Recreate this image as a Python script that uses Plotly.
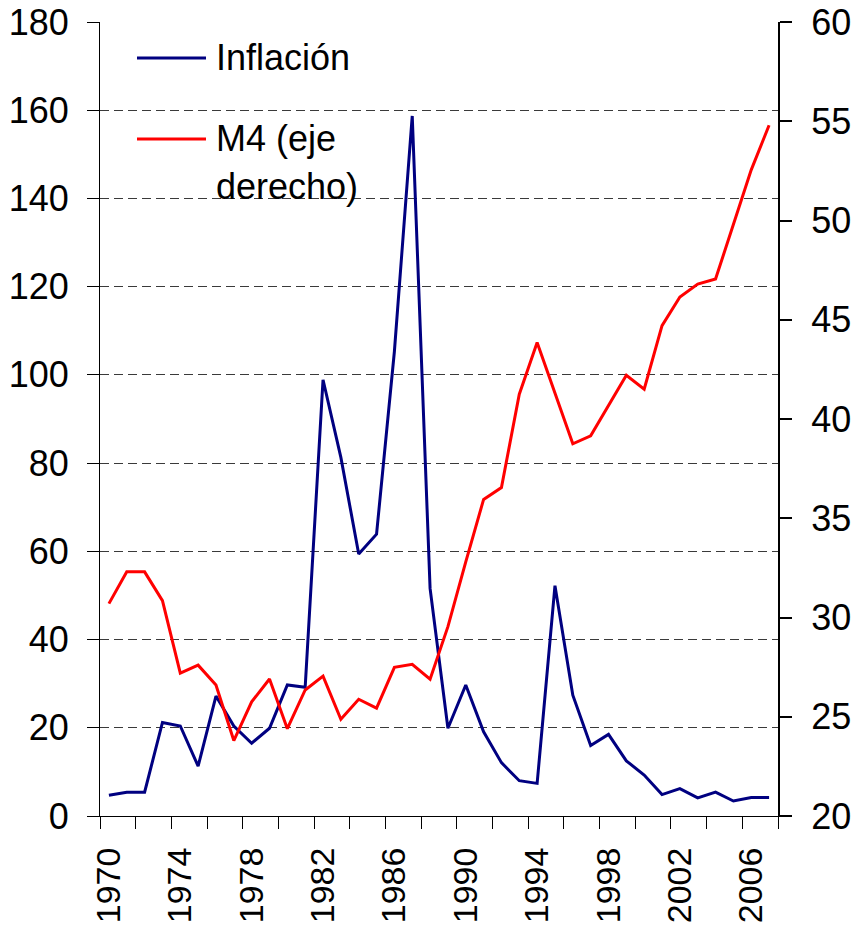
import plotly.graph_objects as go

years = list(range(1970, 2008))
inflacion = [4.7, 5.4, 5.4, 21.2, 20.4, 11.3, 27.2, 20.4, 16.5, 19.9,
             29.7, 29.2, 98.9, 81.3, 59.4, 63.9, 105.3, 158.7, 51.6, 19.9,
             29.7, 19.1, 12.1, 8.0, 7.4, 52.2, 27.4, 16.0, 18.5, 12.5,
             9.3, 4.85, 6.2, 4.1, 5.4, 3.4, 4.2, 4.2]
m4 = [30.7, 32.3, 32.3, 30.85, 27.2, 27.6, 26.6, 23.8, 25.75, 26.9,
      24.4, 26.35, 27.05, 24.87, 25.88, 25.43, 27.49, 27.64, 26.89, 29.54,
      32.8, 35.95, 36.55, 41.25, 43.85, 41.3, 38.75, 39.15, 40.7, 42.2,
      41.5, 44.7, 46.15, 46.8, 47.05, 49.8, 52.55, 54.8]
xtick_labels = [1970, 1974, 1978, 1982, 1986, 1990, 1994, 1998, 2002, 2006]
left_ticks = list(range(0, 181, 20))
right_ticks = list(range(20, 61, 5))

W, H = 851, 926
L, R, T, B = 100, 778, 22, 816
FONT = "Arial, Liberation Sans, sans-serif"
FS = 36

def px(x):
    return (x - L) / (R - L)

def py(y):
    return (B - y) / (B - T)

fig = go.Figure()
fig.add_trace(go.Scatter(x=years, y=inflacion, mode="lines", name="Inflación",
                         line=dict(color="#000080", width=3), yaxis="y"))
fig.add_trace(go.Scatter(x=years, y=m4, mode="lines", name="M4 (eje derecho)",
                         line=dict(color="#FF0000", width=3), yaxis="y2"))

fig.update_layout(
    width=W, height=H,
    margin=dict(l=L, r=W - R, t=T, b=H - B, pad=0, autoexpand=False),
    paper_bgcolor="white", plot_bgcolor="white",
    showlegend=False,
    font=dict(family=FONT, size=FS, color="black"),
    xaxis=dict(
        range=[1969.5, 2007.5], automargin=False,
        tickmode="array", tickvals=xtick_labels,
        ticktext=[str(v) for v in xtick_labels],
        tickangle=-90, ticks="", showgrid=False, zeroline=False,
        showline=True, linecolor="black", linewidth=1,
        minor=dict(tick0=1969.5, dtick=2, ticks="outside", ticklen=12,
                   tickcolor="black", tickwidth=1, showgrid=False),
        ticklabelstandoff=17, ticklabeloverflow="allow",
        tickfont=dict(size=34),
    ),
    yaxis=dict(
        range=[0, 180], tickmode="array", tickvals=left_ticks, automargin=False,
        ticks="outside", ticklen=12, tickcolor="black", tickwidth=1,
        showline=True, linecolor="black", linewidth=1,
        showgrid=True, gridcolor="#3a3a3a", griddash="9px,5px", gridwidth=1,
        zeroline=False, ticklabelstandoff=11, ticklabeloverflow="allow",
        tickfont=dict(size=FS),
    ),
    yaxis2=dict(
        range=[20, 60], tickmode="array", tickvals=right_ticks, automargin=False,
        overlaying="y", side="right",
        ticks="outside", ticklen=12, tickcolor="black", tickwidth=2,
        showline=True, linecolor="black", linewidth=2,
        showgrid=False, zeroline=False, ticklabelstandoff=12,
        ticklabeloverflow="allow",
        tickfont=dict(size=FS),
    ),
)

# legend drawn manually
legend_items = [("#000080", 58, ["Inflación"]),
                ("#FF0000", 139, ["M4 (eje", "derecho)"])]
for color, ly, lines in legend_items:
    fig.add_shape(type="line", xref="paper", yref="paper",
                  x0=px(137), x1=px(206), y0=py(ly), y1=py(ly),
                  line=dict(color=color, width=3))
    for k, txt in enumerate(lines):
        fig.add_annotation(xref="paper", yref="paper",
                           x=px(214), y=py(ly + k * 47), text=txt,
                           showarrow=False, xanchor="left", yanchor="middle",
                           font=dict(family=FONT, size=FS, color="black"))

fig.write_html("out.html",
               config={"displayModeBar": False},
               post_script="document.body.style.margin='0';"
                           "document.body.style.overflow='hidden';")
